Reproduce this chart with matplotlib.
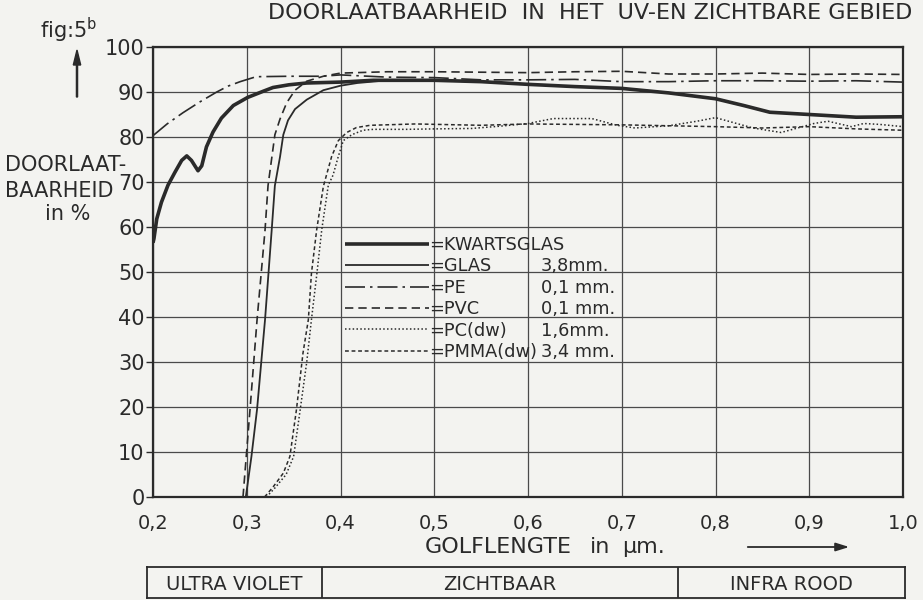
import matplotlib
matplotlib.use('Agg')
import matplotlib.pyplot as plt
from matplotlib.lines import Line2D

# ---------------- data ----------------
kwarts_x = [0.2, 0.201, 0.204, 0.209, 0.216, 0.2235, 0.2306, 0.236, 0.241, 0.248, 0.252, 0.257,
            0.264, 0.273, 0.2857, 0.301, 0.318, 0.328, 0.345, 0.364, 0.4, 0.435, 0.5, 0.55,
            0.6, 0.65, 0.7, 0.75, 0.8, 0.83, 0.858, 0.9, 0.95, 1.0]
kwarts_y = [56.5, 57.4, 61.8, 65.5, 69.3, 72.2, 74.8, 75.8, 74.8, 72.5, 73.6, 77.8,
            81.1, 84.2, 87.0, 88.8, 90.2, 91.0, 91.6, 92.0, 92.2, 92.6, 92.6, 92.3,
            91.7, 91.2, 90.8, 89.8, 88.5, 87.0, 85.5, 85.0, 84.4, 84.5]

glas_x = [0.299, 0.305, 0.311, 0.3195, 0.3266, 0.330, 0.3355, 0.339, 0.344, 0.3515, 0.364,
          0.3817, 0.4, 0.418, 0.45, 0.5, 0.55, 0.6, 0.65, 0.7, 0.75, 0.8, 0.83, 0.858, 0.9,
          0.95, 1.0]
glas_y = [0.0, 9.0, 19.5, 39.4, 59.3, 69.2, 75.6, 80.5, 83.7, 86.2, 88.3,
          90.4, 91.4, 92.0, 92.6, 92.6, 92.3, 91.7, 91.2, 90.8, 89.8, 88.5, 87.0, 85.5, 85.0,
          84.4, 84.5]

pe_x = [0.2, 0.215, 0.232, 0.25, 0.268, 0.28, 0.293, 0.31, 0.346, 0.38, 0.4, 0.45, 0.5, 0.55,
        0.6, 0.65, 0.7, 0.75, 0.8, 0.85, 0.9, 0.95, 1.0]
pe_y = [80.3, 82.9, 85.4, 87.8, 90.0, 91.3, 92.3, 93.4, 93.5, 93.5, 93.8, 93.3, 93.2, 92.7,
        92.7, 92.8, 92.3, 92.3, 92.5, 92.5, 92.4, 92.5, 92.2]

pvc_x = [0.296, 0.3035, 0.311, 0.3195, 0.3227, 0.330, 0.3355, 0.3426, 0.3515, 0.364, 0.3817,
         0.4, 0.45, 0.5, 0.55, 0.6, 0.65, 0.7, 0.75, 0.8, 0.85, 0.9, 0.95, 1.0]
pvc_y = [0.0, 19.5, 39.4, 59.3, 69.2, 80.5, 84.0, 87.6, 90.4, 92.4, 93.5,
         94.2, 94.5, 94.5, 94.4, 94.3, 94.5, 94.6, 94.0, 94.0, 94.2, 93.9, 94.0, 93.9]

pc_x = [0.321, 0.33, 0.342, 0.35, 0.357, 0.364, 0.369, 0.375, 0.38, 0.387, 0.392, 0.3977, 0.403,
        0.412, 0.424, 0.435, 0.47, 0.5, 0.54, 0.57, 0.6, 0.627, 0.668, 0.695, 0.714, 0.75,
        0.78, 0.8, 0.84, 0.87, 0.905, 0.92, 0.945, 0.958, 0.975, 1.0]
pc_y = [0.0, 2.0, 5.0, 9.0, 19.4, 30.0, 39.4, 50.0, 59.4, 69.3, 71.5, 75.7, 79.2,
        80.5, 81.5, 81.7, 81.7, 81.8, 81.9, 82.4, 83.0, 84.1, 84.1, 82.6, 82.0, 82.5,
        83.5, 84.3, 82.0, 81.0, 83.0, 83.5, 82.3, 83.0, 82.8, 82.3]

pmma_x = [0.319, 0.328, 0.339, 0.346, 0.353, 0.36, 0.3657, 0.369, 0.3746, 0.3817, 0.385, 0.3906,
          0.3977, 0.4066, 0.417, 0.4315, 0.48, 0.55, 0.6, 0.65, 0.7, 0.75, 0.8, 0.85, 0.9,
          0.95, 1.0]
pmma_y = [0.0, 2.2, 5.3, 9.0, 19.4, 32.0, 39.4, 49.7, 59.4, 69.0, 71.5, 75.7,
          79.2, 81.0, 82.1, 82.6, 82.9, 82.6, 82.9, 82.8, 82.7, 82.5, 82.3, 82.0, 82.3,
          81.8, 81.5]

series_names = ['=KWARTSGLAS', '=GLAS', '=PE', '=PVC', '=PC(dw)', '=PMMA(dw)']
series_thickness = [' ', '3,8mm.', '0,1 mm.', '0,1 mm.', '1,6mm.', '3,4 mm.']

x_ticks = [0.2, 0.3, 0.4, 0.5, 0.6, 0.7, 0.8, 0.9, 1.0]
x_tick_labels = ['0,2', '0,3', '0,4', '0,5', '0,6', '0,7', '0,8', '0,9', '1,0']
y_ticks = [0, 10, 20, 30, 40, 50, 60, 70, 80, 90, 100]

band_edges = [0.38, 0.76]
band_labels = ['ULTRA VIOLET', 'ZICHTBAAR', 'INFRA ROOD']

# ---------------- figure ----------------
ink = '#2a2a2a'
bg = '#f3f3f0'
plt.rcParams['font.family'] = ['DejaVu Sans']

W, H = 923, 600
fig = plt.figure(figsize=(W / 100, H / 100), dpi=100)
fig.patch.set_facecolor(bg)

ax = fig.add_axes([153 / W, 1 - 497 / H, 750 / W, 450 / H])
ax.set_facecolor(bg)
ax.set_xlim(0.2, 1.0)
ax.set_ylim(0, 100)

series = [
    (kwarts_x, kwarts_y, dict(lw=2.6, ls='-')),
    (glas_x, glas_y, dict(lw=1.3, ls='-')),
    (pe_x, pe_y, dict(lw=1.2, ls=(0, (12, 3, 1.5, 3)))),
    (pvc_x, pvc_y, dict(lw=1.2, ls=(0, (5, 3)))),
    (pc_x, pc_y, dict(lw=1.1, ls=(0, (1, 1.5)))),
    (pmma_x, pmma_y, dict(lw=1.1, ls=(0, (2.5, 1.8)))),
]
handles = []
for (xs, ys, st), name in zip(series, series_names):
    ln, = ax.plot(xs, ys, color=ink, solid_capstyle='butt', dash_capstyle='butt',
                  solid_joinstyle='round', **st, zorder=3)
    handles.append(ln)

ax.set_xticks(x_ticks)
ax.set_xticklabels(x_tick_labels)
ax.set_yticks(y_ticks)
ax.grid(True, color='#4a4a4a', lw=0.9)
for sp in ax.spines.values():
    sp.set_color(ink)
    sp.set_linewidth(1.6)
ax.tick_params(axis='x', length=0, pad=12, labelsize=14, colors=ink)
ax.tick_params(axis='y', length=5, width=1, pad=1, labelsize=15, colors=ink)

# legend (two columns: names and thickness)
leg_fs = 12.8
leg_top = (497 - 236) / 450
leg1 = ax.legend(handles, series_names, loc='upper left',
                 bbox_to_anchor=((345 - 153) / 750, leg_top),
                 frameon=False, borderpad=0, borderaxespad=0, handlelength=4.7,
                 handletextpad=0.05, labelspacing=0.19, fontsize=leg_fs)
for t in leg1.get_texts():
    t.set_color(ink)
ax.add_artist(leg1)
blank = [Line2D([], [], lw=0) for _ in series_thickness]
leg2 = ax.legend(blank, series_thickness, loc='upper left',
                 bbox_to_anchor=((541 - 153) / 750, leg_top),
                 frameon=False, borderpad=0, borderaxespad=0, handlelength=0,
                 handletextpad=0, labelspacing=0.19, fontsize=leg_fs)
for t in leg2.get_texts():
    t.set_color(ink)

# titles and labels
fig.text(268 / W, 1 - 19 / H, 'DOORLAATBAARHEID  IN  HET  UV-EN ZICHTBARE GEBIED',
         fontsize=16, color=ink, ha='left', va='baseline')
fig.text(40 / W, 1 - 38 / H, 'fig:5$^{\\mathrm{b}}$', fontsize=15, color=ink, ha='left', va='baseline')
fig.text(5 / W, 1 - 171 / H, 'DOORLAAT-', fontsize=15, color=ink, ha='left', va='baseline')
fig.text(5 / W, 1 - 197 / H, 'BAARHEID', fontsize=15, color=ink, ha='left', va='baseline')
fig.text(45 / W, 1 - 220 / H, 'in %', fontsize=15, color=ink, ha='left', va='baseline')
fig.patches.append(matplotlib.patches.FancyArrow(
    77 / W, 1 - 97 / H, 0, 47 / H, width=0.0012, head_width=0.008, head_length=0.025,
    length_includes_head=True, color=ink, transform=fig.transFigure, figure=fig))

fig.text(425 / W, 1 - 553 / H, 'GOLFLENGTE', fontsize=16, color=ink, ha='left', va='baseline')
fig.text(590 / W, 1 - 553 / H, 'in', fontsize=16, color=ink, ha='left', va='baseline')
fig.text(622 / W, 1 - 553 / H, 'µm.', fontsize=16, color=ink, ha='left', va='baseline')
ax.annotate('', xy=(852 / W, 1 - 547 / H), xytext=(745 / W, 1 - 547 / H),
            xycoords='figure fraction', textcoords='figure fraction',
            arrowprops=dict(arrowstyle='-|>,head_length=0.8,head_width=0.25', color=ink, lw=1.3))

# band box
axb = fig.add_axes([147 / W, 1 - 598 / H, (905 - 147) / W, 31 / H])
axb.set_facecolor(bg)
x_lo = 0.2 - 6 / 937.5
x_hi = 1.0 + 2 / 937.5
axb.set_xlim(x_lo, x_hi)
axb.set_ylim(0, 1)
axb.set_xticks([])
axb.set_yticks([])
for sp in axb.spines.values():
    sp.set_color(ink)
    sp.set_linewidth(1.3)
for e in band_edges:
    axb.axvline(e, color=ink, lw=1.3)
edges = [x_lo] + band_edges + [x_hi]
for i, lab in enumerate(band_labels):
    axb.text((edges[i] + edges[i + 1]) / 2, 0.45, lab, ha='center', va='center',
             fontsize=14, color=ink)

fig.savefig('out.png', dpi=100, facecolor=bg)
